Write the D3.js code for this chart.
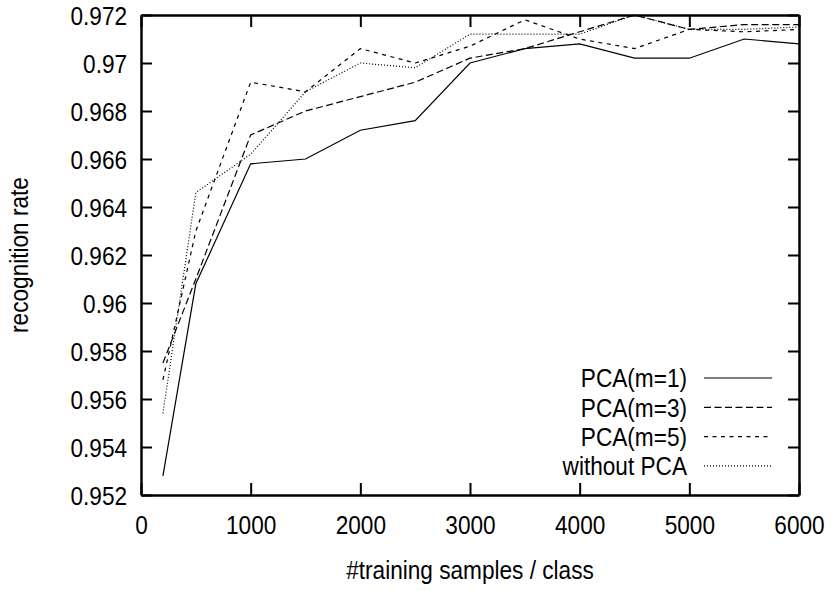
<!DOCTYPE html>
<html>
<head>
<meta charset="utf-8">
<script src="https://cdn.jsdelivr.net/npm/d3@7"></script>
<style>
  body { margin: 0; background: #fff; }
  svg text { font-family: "Liberation Sans", Arial, sans-serif; fill: #000; }
</style>
</head>
<body>
<div id="chart"></div>
<script>
// Data: recognition rate vs. training samples per class
var samples = [200, 500, 1000, 1500, 2000, 2500, 3000, 3500, 4000, 4500, 5000, 5500, 6000]
var pcaM1 = [0.9528, 0.9608, 0.9658, 0.9660, 0.9672, 0.9676, 0.9700, 0.9706, 0.9708, 0.9702, 0.9702, 0.9710, 0.9708]
var pcaM3 = [0.9575, 0.9610, 0.9670, 0.9680, 0.9686, 0.9692, 0.9702, 0.9706, 0.9713, 0.9720, 0.9714, 0.9716, 0.9716]
var pcaM5 = [0.9568, 0.9630, 0.9692, 0.9688, 0.9706, 0.9700, 0.9707, 0.9718, 0.9710, 0.9706, 0.9714, 0.9713, 0.9714]
var noPca = [0.9554, 0.9646, 0.9662, 0.9688, 0.9700, 0.9698, 0.9712, 0.9712, 0.9712, 0.9720, 0.9714, 0.9714, 0.9715]
var seriesNames = ['PCA(m=1)', 'PCA(m=3)', 'PCA(m=5)', 'without PCA']
var xTicks = [0, 1000, 2000, 3000, 4000, 5000, 6000]
var yTicks = [0.952, 0.954, 0.956, 0.958, 0.96, 0.962, 0.964, 0.966, 0.968, 0.97, 0.972]

var W = 834, H = 591
var margin = {top: 15, right: 35, bottom: 96, left: 141}
var width = W - margin.left - margin.right
var height = H - margin.top - margin.bottom
var fs = 26, sx = 0.87   // narrow helvetica look

var x = d3.scaleLinear().domain([0, 6000]).range([0, width])
var y = d3.scaleLinear().domain([0.952, 0.972]).range([height, 0])

var dashes = ['none', '7,3.5', '4,4.5', '1,2']

var svg = d3.select('#chart').append('svg')
  .attr('width', W)
  .attr('height', H)

var g = svg.append('g')
  .attr('transform', 'translate(' + margin.left + ',' + margin.top + ')')

var fmt = function(d){ return String(+d.toFixed(3)) }

// axes, ticks pointing inward, mirrored on top/right
var xAxis = g.append('g')
  .attr('transform', 'translate(0,' + height + ')')
  .call(d3.axisBottom(x).tickValues(xTicks).tickSizeInner(-12).tickSizeOuter(0).tickPadding(21).tickFormat(d3.format('d')))
var yAxis = g.append('g')
  .call(d3.axisLeft(y).tickValues(yTicks).tickSizeInner(-11).tickSizeOuter(0).tickPadding(16).tickFormat(fmt))
g.append('g')
  .call(d3.axisTop(x).tickValues(xTicks).tickSizeInner(-12).tickSizeOuter(0).tickFormat(''))
g.append('g')
  .attr('transform', 'translate(' + width + ',0)')
  .call(d3.axisRight(y).tickValues(yTicks).tickSizeInner(-11).tickSizeOuter(0).tickFormat(''))

g.selectAll('.domain').style('stroke', '#000').style('stroke-width', 2.5)
g.selectAll('.tick line').style('stroke', '#000').style('stroke-width', 2)
g.selectAll('.tick text')
  .style('font-size', fs + 'px')
  .attr('transform', 'scale(' + sx + ',1)')
yAxis.selectAll('.tick text').attr('dy', '0.36em')

// curves
var line = d3.line()
  .x(function(d) { return x(d.n) })
  .y(function(d) { return y(d.v) })

var curves = [pcaM1, pcaM3, pcaM5, noPca].map(function(vals, i){
  return {
    name: seriesNames[i],
    dash: dashes[i],
    values: samples.map(function(n, j){ return {n: n, v: vals[j]} })
  }
})

g.selectAll('.curve')
  .data(curves)
  .enter().append('path')
    .attr('class', 'curve')
    .attr('d', function(d) { return line(d.values) })
    .style('fill', 'none')
    .style('stroke', '#000')
    .style('stroke-width', 1.2)
    .style('stroke-dasharray', function(d) { return d.dash })

// legend
var legend = g.selectAll('.legend')
  .data(curves)
  .enter().append('g')
    .attr('class', 'legend')
    .attr('transform', function(d, i) { return 'translate(0,' + (363 + i * 29.3) + ')' })

legend.append('text')
  .attr('transform', 'translate(' + (546) + ',0) scale(' + sx + ',1)')
  .attr('dy', '0.36em')
  .style('font-size', fs + 'px')
  .style('text-anchor', 'end')
  .text(function(d) { return d.name })

legend.append('line')
  .attr('x1', 563).attr('x2', 631)
  .style('stroke', '#000')
  .style('stroke-width', 1.2)
  .style('stroke-dasharray', function(d) { return d.dash })

// axis titles
svg.append('text')
  .attr('transform', 'translate(' + (margin.left + width / 2) + ',579) scale(' + sx + ',1)')
  .style('font-size', fs + 'px')
  .style('text-anchor', 'middle')
  .text('#training samples / class')

svg.append('text')
  .attr('transform', 'translate(28,' + (margin.top + height / 2) + ') rotate(-90) scale(' + sx + ',1)')
  .style('font-size', fs + 'px')
  .style('text-anchor', 'middle')
  .text('recognition rate')
</script>
</body>
</html>
